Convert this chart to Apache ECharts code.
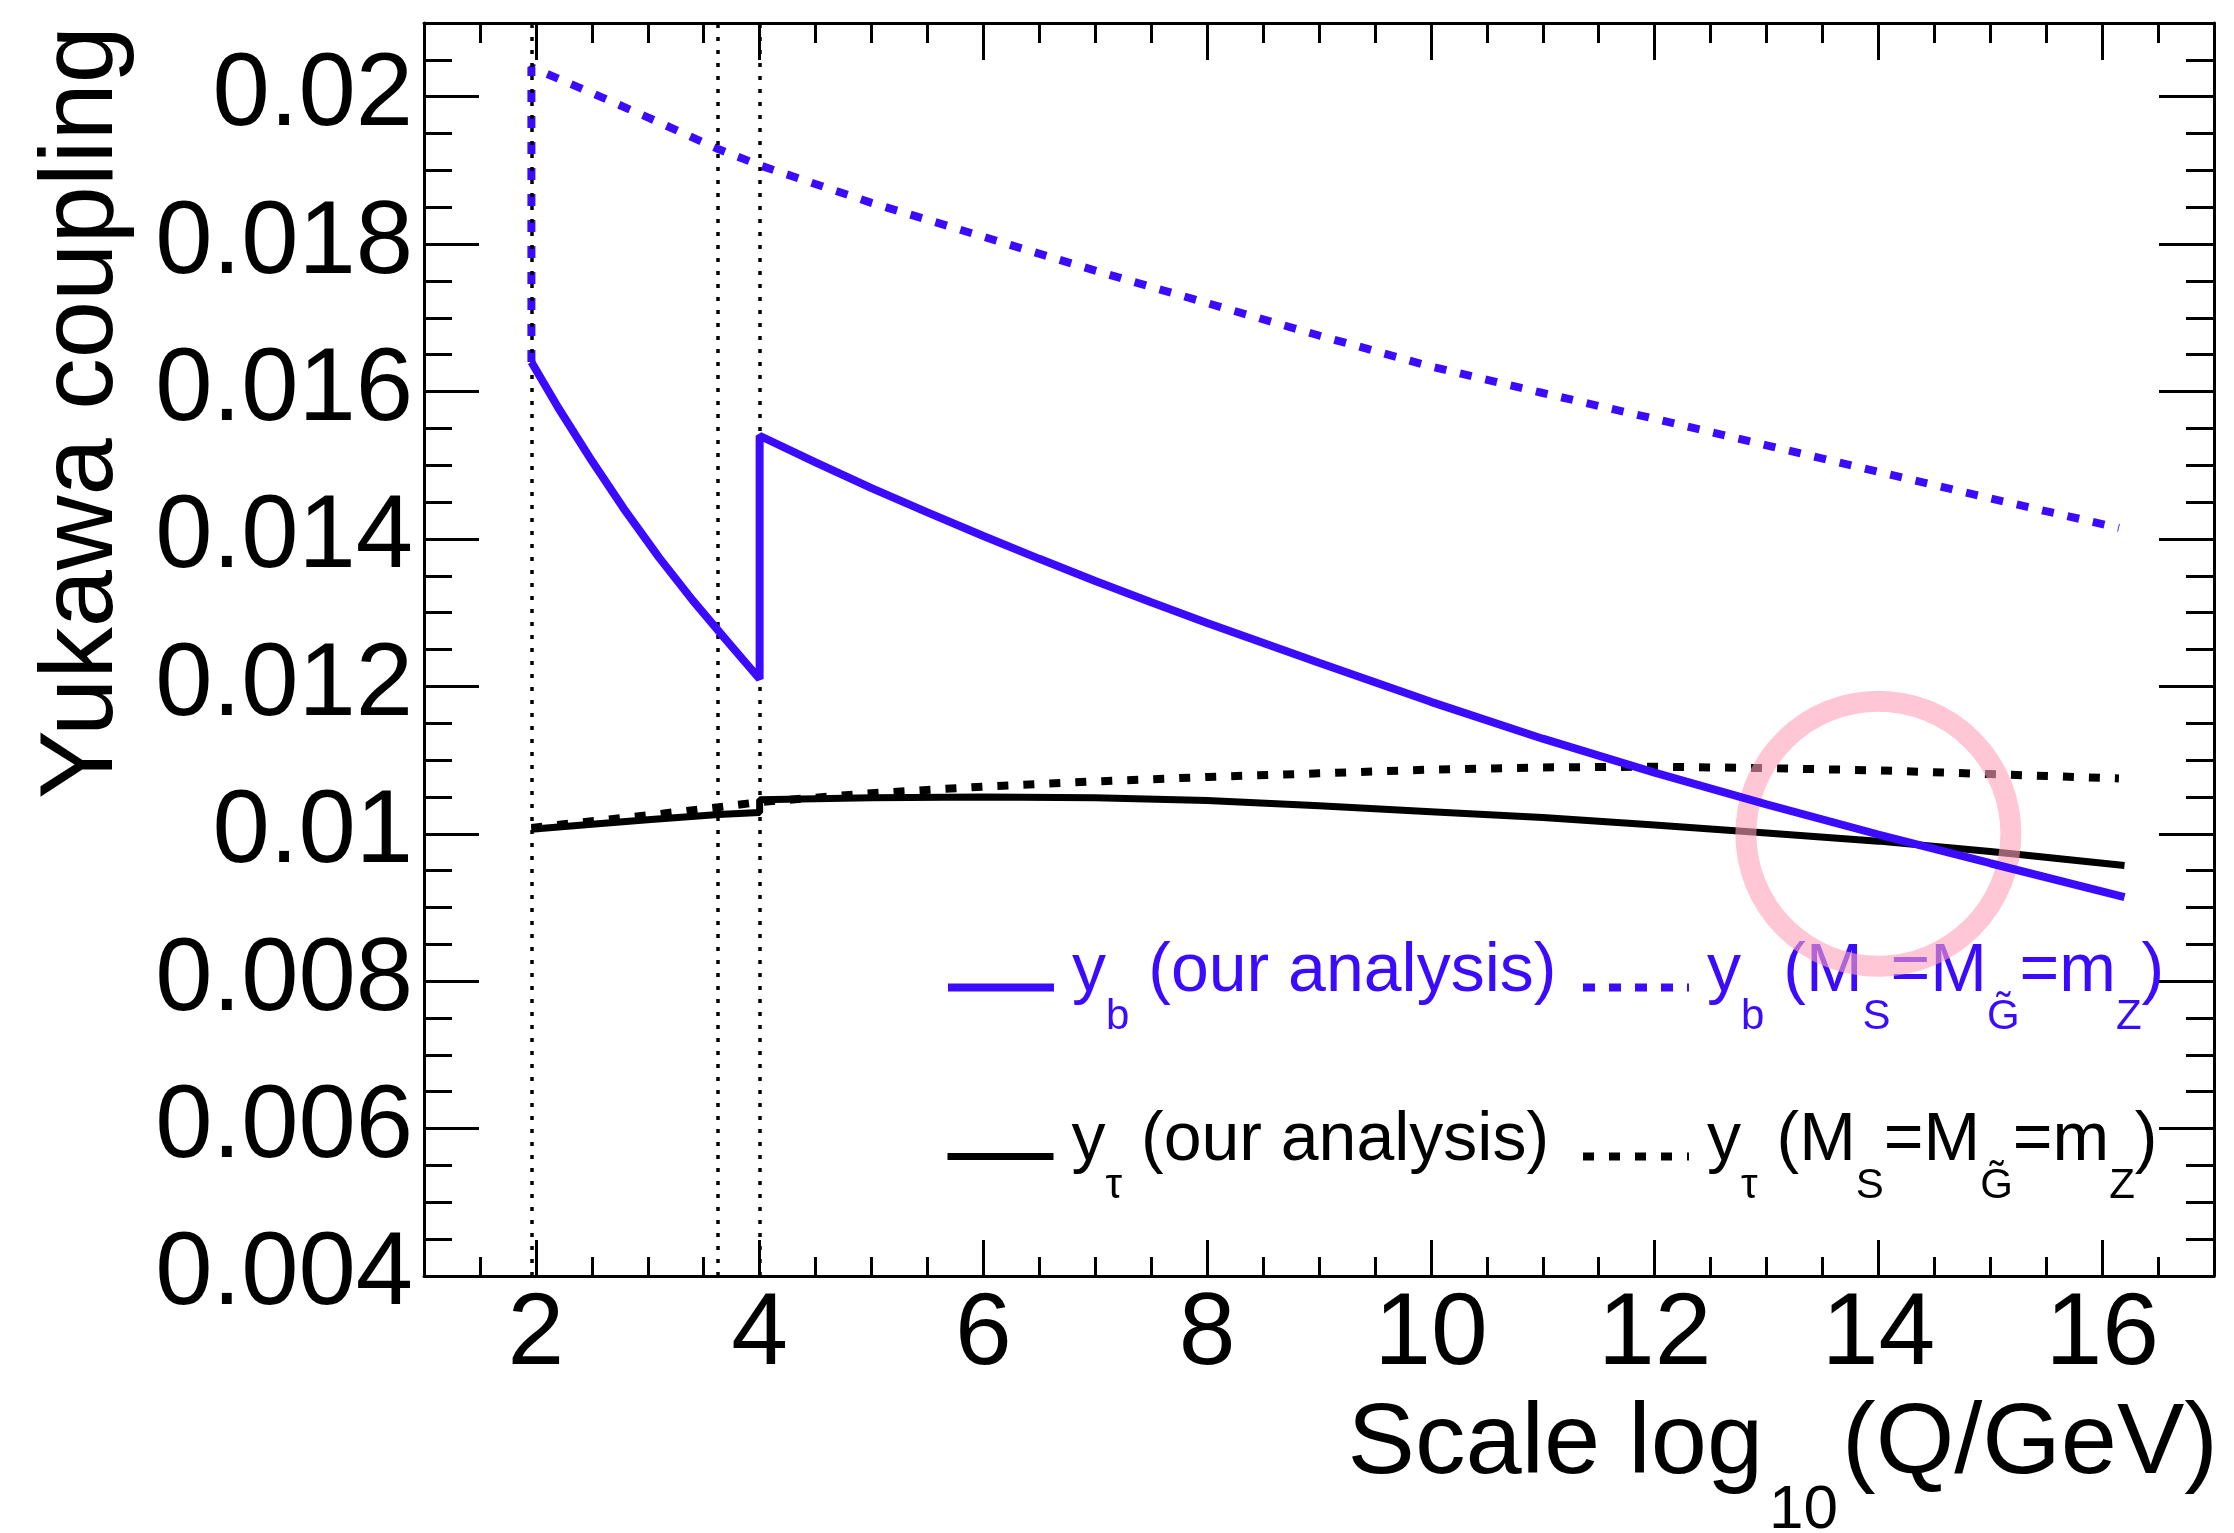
<!DOCTYPE html>
<html>
<head>
<meta charset="utf-8">
<title>Yukawa coupling</title>
<script src="https://cdn.jsdelivr.net/npm/echarts@6/dist/echarts.min.js"></script>
<style>
  html, body { margin: 0; padding: 0; background: #fff; }
  #chart { width: 2234px; height: 1533px; }
</style>
</head>
<body>
<div id="chart"></div>
<script>
// threshold scales (log10 Q/GeV): mZ, intermediate, SUSY scale
const thresholds = [1.96, 3.63, 4.0];

// y_b, our analysis (jumps at the SUSY threshold)
const ybOurs = [
  [1.96, 0.01640], [2.2, 0.01578], [2.5, 0.01506], [2.8, 0.01438], [3.1, 0.01375],
  [3.4, 0.01317], [3.7, 0.01263], [4.0, 0.01210],
  [4.0, 0.01540], [4.5, 0.01504], [5.0, 0.01469], [5.5, 0.01436], [6.0, 0.01404],
  [6.5, 0.01373], [7.0, 0.01343], [7.5, 0.01314], [8.0, 0.01286], [9.0, 0.01232],
  [10.0, 0.01179], [11.0, 0.01129], [12.0, 0.01083], [13.0, 0.01040], [14.0, 0.00999],
  [15.0, 0.00960], [16.2, 0.00914]
];

// y_b with MS = MG~ = mZ
const ybMZ = [
  [1.96, 0.01640], [1.96, 0.02040], [2.5, 0.02005], [3.0, 0.01972], [3.63, 0.01929],
  [4.0, 0.01907], [5.0, 0.01856], [6.0, 0.01810], [7.0, 0.01764], [8.0, 0.01720],
  [9.0, 0.01676], [10.0, 0.01634], [11.0, 0.01598], [12.0, 0.01563], [13.0, 0.01527],
  [14.0, 0.01491], [15.0, 0.01455], [16.15, 0.01415]
];

// y_tau, our analysis
const ytauOurs = [
  [1.96, 0.01006], [2.5, 0.01013], [3.0, 0.01019], [3.63, 0.01026], [4.0, 0.01029],
  [4.0, 0.01046], [5.0, 0.01049], [6.0, 0.01050], [7.0, 0.01049], [8.0, 0.01045],
  [9.0, 0.01038], [10.0, 0.01030], [11.0, 0.01022], [12.0, 0.01012], [13.0, 0.01001],
  [14.0, 0.00990], [15.0, 0.00976], [16.2, 0.00957]
];

// y_tau with MS = MG~ = mZ
const ytauMZ = [
  [1.96, 0.01008], [2.5, 0.01017], [3.0, 0.01025], [3.63, 0.01036], [4.0, 0.01043],
  [5.0, 0.01055], [6.0, 0.01064], [7.0, 0.01071], [8.0, 0.01077], [9.0, 0.01082],
  [10.0, 0.01087], [11.0, 0.01090], [12.0, 0.01091], [13.0, 0.01089], [14.0, 0.01086],
  [15.0, 0.01081], [16.15, 0.01075]
];

const xTicks = [2, 4, 6, 8, 10, 12, 14, 16];
const yTicks = [0.004, 0.006, 0.008, 0.01, 0.012, 0.014, 0.016, 0.018, 0.02];
const highlight = [14.0, 0.0100];

const blue = '#3b0bff';
const font = 'Liberation Sans';

const xMinor = [];
for (let i = 3; i <= 33; i++) xMinor.push(i * 0.5);
const yMinor = [];
for (let i = 9; i <= 41; i++) yMinor.push(+(i * 0.0005).toFixed(4));

const legendLabels = {
  'yb ours': '{first|y}{sub|b}{txt| (our analysis)}',
  'yb mz': '{first|y}{sub|b}{txt| (M}{sub|S}{txt|=M}{sub|G\u0303}{txt|=m}{sub|Z}{txt|)}',
  'ytau ours': '{first|y}{sub|\u03c4}{txt| (our analysis)}',
  'ytau mz': '{first|y}{sub|\u03c4}{txt| (M}{sub|S}{txt|=M}{sub|G\u0303}{txt|=m}{sub|Z}{txt|)}'
};

function frameAxis(position, ticks, length, withLine, lim) {
  return {
    type: 'value',
    position: position,
    min: lim[0],
    max: lim[1],
    axisLine: { show: withLine, onZero: false, lineStyle: { color: '#000', width: 3 } },
    axisTick: { show: true, inside: true, length: length, customValues: ticks, lineStyle: { color: '#000', width: 3 } },
    axisLabel: { show: false },
    splitLine: { show: false }
  };
}

function legendAt(name, left, top, color) {
  return {
    data: [name],
    left: left,
    top: top,
    padding: 0,
    itemWidth: 106,
    itemHeight: 8,
    selectedMode: false,
    itemStyle: { opacity: 0 },
    lineStyle: { width: 'inherit' },
    formatter: n => legendLabels[n],
    textStyle: {
      color: color,
      fontFamily: font,
      fontSize: 68,
      rich: {
        first: { color: color, fontFamily: font, fontSize: 68, padding: [0, 0, 31, 13] },
        txt: { color: color, fontFamily: font, fontSize: 68, padding: [0, 0, 31, 0] },
        sub: { color: color, fontFamily: font, fontSize: 42, padding: [59, 0, 0, 0] }
      }
    }
  };
}

const xLim = [1, 17];
const yLim = [0.004, 0.021];

const bottomMajor = frameAxis('bottom', xTicks, 36, true, xLim);
bottomMajor.axisLabel = { show: true, customValues: xTicks, fontFamily: font, fontSize: 102, color: '#000', margin: 9 };

const leftMajor = frameAxis('left', yTicks, 55, true, yLim);
leftMajor.axisLabel = {
  show: true, customValues: yTicks, fontFamily: font, fontSize: 103, color: '#000', margin: 11,
  formatter: v => String(+v.toFixed(3))
};

const chart = echarts.init(document.getElementById('chart'));

const option = {
  animation: false,
  backgroundColor: '#fff',
  textStyle: { fontFamily: font },
  grid: { left: 424, right: 20, top: 23, bottom: 257, containLabel: false, outerBoundsMode: 'none' },
  xAxis: [
    bottomMajor,
    frameAxis('bottom', xMinor, 19, false, xLim),
    frameAxis('top', xTicks, 37, true, xLim),
    frameAxis('top', xMinor, 20, false, xLim)
  ],
  yAxis: [
    leftMajor,
    frameAxis('left', yMinor, 28, false, yLim),
    frameAxis('right', yTicks, 55, true, yLim),
    frameAxis('right', yMinor, 28, false, yLim)
  ],
  legend: [
    legendAt('yb ours', 944, 938, blue),
    legendAt('yb mz', 1579, 938, blue),
    legendAt('ytau ours', 944, 1107, '#000'),
    legendAt('ytau mz', 1579, 1107, '#000')
  ],
  graphic: [
    {
      type: 'text',
      x: 84,
      y: 26,
      rotation: Math.PI / 2,
      style: {
        text: 'Yukawa coupling',
        font: '103px "Liberation Sans"',
        fill: '#000',
        align: 'right', verticalAlign: 'middle',
        textAlign: 'right', textVerticalAlign: 'middle'
      }
    },
    {
      type: 'text',
      x: 2218,
      y: 1445,
      style: {
        text: '{m|Scale log}{s|10}{m|(Q/GeV)}',
        fill: '#000',
        align: 'right', verticalAlign: 'middle',
        textAlign: 'right', textVerticalAlign: 'middle',
        rich: {
          m: { fontFamily: font, fontSize: 101, fill: '#000' },
          s: { fontFamily: font, fontSize: 62, fill: '#000', padding: [131, 4, 0, 6] }
        }
      }
    }
  ],
  series: [
    {
      name: 'ytau mz',
      type: 'line',
      data: ytauMZ,
      symbol: 'none',
      itemStyle: { color: '#000' },
      lineStyle: { color: '#000', width: 8, type: [11, 15], cap: 'butt' },
      z: 2
    },
    {
      name: 'ytau ours',
      type: 'line',
      data: ytauOurs,
      symbol: 'none',
      itemStyle: { color: '#000' },
      lineStyle: { color: '#000', width: 7 },
      z: 3,
      markLine: {
        silent: true,
        symbol: ['none', 'none'],
        label: { show: false },
        lineStyle: { color: '#000', width: 3.5, type: [4, 9] },
        data: thresholds.map(x => ({ xAxis: x }))
      }
    },
    {
      name: 'yb mz',
      type: 'line',
      data: ybMZ,
      symbol: 'none',
      itemStyle: { color: blue },
      lineStyle: { color: blue, width: 8, type: [12, 14], cap: 'butt' },
      z: 4
    },
    {
      name: 'yb ours',
      type: 'line',
      data: ybOurs,
      symbol: 'none',
      itemStyle: { color: blue },
      lineStyle: { color: blue, width: 8 },
      z: 5,
      markPoint: {
        silent: true,
        symbol: 'circle',
        symbolSize: 265,
        label: { show: false },
        itemStyle: { color: 'transparent', borderColor: 'rgba(255, 160, 185, 0.6)', borderWidth: 21 },
        data: [{ coord: highlight }]
      }
    }
  ]
};

chart.setOption(option);
</script>
</body>
</html>
